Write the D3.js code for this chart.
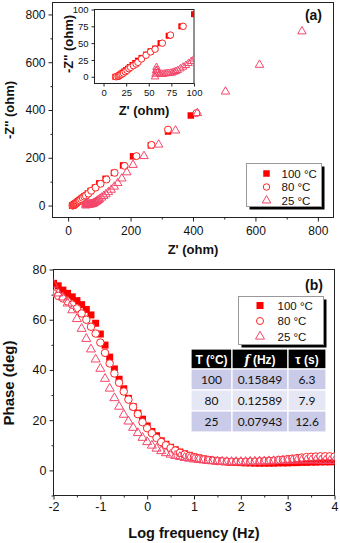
<!DOCTYPE html>
<html><head><meta charset="utf-8">
<script src="https://cdn.jsdelivr.net/npm/d3@7"></script>
<style>
body{margin:0;background:#fff}
svg{display:block}
text{font-family:Arial,"Liberation Sans",sans-serif;fill:#111}
</style>
</head><body>
<svg id="c" width="340" height="543"></svg>
<script>
// ---------- DATA ----------
// Panel (a): Nyquist plot  (Z', -Z'') in ohm
const zre100 = [13,15,16,17,18,19.5,21,23,25,27,29,32,35,38,42,47,52,57,63,72,86,100,120,147,176,208,265,320,393];
const zim100 = [0,0.5,1,2,3,4.5,6,8,10,12,14.5,17.5,20.5,24,28,33,38,42,50,61,75,93,112,137,168,206,252,310,377];
const zre80  = [14,16,17,18,19,20.5,22,24,26,28,30,33,36,38,42,47,52,57,65,74,88,104,123,149,181,219,267,320,411];
const zim80  = [0,0.5,1,2,3,4,5.5,7.5,9.5,12,14,16.5,19,21.5,26.5,32,37,41,50,62,75,91,109,137,166,207,254,318,387];
const zre25  = [57,57.5,58,58.5,59,60,62,64,66,68,70,72,74,76,78,80,82,85,88,91,94,97,100,107,114,121,129,138,148,159,172,188,208,243,290,344,414,504,613,749];
const zim25  = [0,4,9,14,10,6,4.5,4,4,4.5,5,5,5.5,6,7,8,9.5,12,14.5,17,20,23,26.5,33,40,47,56,66,79,94,113,139,170,207,255,314,387,477,589,729];
const ticksA = [0,200,400,600,800];
const minorA = [100,300,500,700];
const ticksInset = [0,25,50,75,100];

// Panel (b): Bode phase
const logF = [-2.0,-1.9,-1.8,-1.7,-1.6,-1.5,-1.4,-1.3,-1.2,-1.1,-1.0,-0.9,-0.8,-0.7,-0.6,-0.5,-0.4,-0.3,-0.2,-0.1,
  0.0,0.1,0.2,0.3,0.4,0.5,0.6,0.7,0.8,0.9,1.0,1.1,1.2,1.3,1.4,1.5,1.6,1.7,1.8,1.9,
  2.0,2.1,2.2,2.3,2.4,2.5,2.6,2.7,2.8,2.9,3.0,3.1,3.2,3.3,3.4,3.5,3.6,3.7,3.8,3.9,4.0];
const phase100 = [74.5,73.5,71.8,70.5,69.1,67.6,66.0,64.1,61.9,58.6,54.3,49.9,45.1,40.4,36.3,32.5,28.7,25.4,22.8,20.4,
  17.7,15.5,13.8,11.8,10.4,9.2,8.2,7.3,6.6,6.0,5.4,5.0,4.6,4.3,4.0,3.8,3.6,3.4,3.3,3.2,
  3.1,3.0,3.0,2.9,2.9,2.9,2.9,2.9,3.0,3.0,3.0,3.1,3.1,3.2,3.2,3.3,3.3,3.4,3.4,3.4,3.5];
const phase80 = [70.5,69.5,68.5,67.3,66.0,64.5,62.5,60.0,57.2,54.5,50.9,46.8,42.6,38.6,34.9,31.4,28.2,25.3,22.4,19.2,
  16.8,14.8,12.9,11.3,10.0,8.9,7.9,7.0,6.3,5.7,5.2,4.8,4.4,4.1,3.9,3.7,3.6,3.5,3.4,3.4,
  3.4,3.4,3.5,3.5,3.6,3.7,3.8,3.9,4.1,4.3,4.5,4.7,4.9,5.1,5.3,5.4,5.5,5.6,5.6,5.6,5.5];
const phase25 = [74.0,70.5,68.9,66.5,63.8,60.3,56.4,52.4,48.2,44.2,40.5,36.5,32.6,28.8,25.4,22.2,19.5,17.0,14.9,13.0,
  11.3,9.9,8.7,7.7,6.9,6.3,5.8,5.4,5.0,4.7,4.4,4.2,4.0,3.8,3.7,3.6,3.5,3.4,3.4,3.4,
  3.4,3.4,3.5,3.5,3.6,3.6,3.7,3.7,3.8,3.8,3.9,3.9,4.0,4.0,4.0,4.0,4.0,3.9,3.9,3.8,3.8];
const ticksBx = [-2,-1,0,1,2,3,4];
const minorBx = [-1.5,-0.5,0.5,1.5,2.5,3.5];
const ticksBy = [0,20,40,60,80];
const minorBy = [-10,10,30,50,70];

const legendLabels = ["100 °C","80 °C","25 °C"];
const tableTemps = ["100","80","25"];
const tableFreq  = ["0.15849","0.12589","0.07943"];
const tableTau   = ["6.3","7.9","12.6"];

// ---------- STYLE ----------
const RED = "#ff0000", CIRC = "#ff2424", TRI = "#f4476b", FRAME = "#222";
const svg = d3.select("#c");

function markers(g, xs, ys, sx, sy, type, s) {
  const pts = xs.map((x,i)=>[sx(x), sy(ys[i])]);
  if (type === "sq") {
    g.selectAll(null).data(pts).enter().append("rect")
      .attr("x",d=>d[0]-s/2).attr("y",d=>d[1]-s/2).attr("width",s).attr("height",s)
      .attr("fill",RED);
  } else if (type === "ci") {
    g.selectAll(null).data(pts).enter().append("circle")
      .attr("cx",d=>d[0]).attr("cy",d=>d[1]).attr("r",s/2)
      .attr("fill","#fff").attr("stroke",CIRC).attr("stroke-width",1);
  } else {
    const sym = d3.symbol(d3.symbolTriangle, s*s*Math.sqrt(3)/4);
    g.selectAll(null).data(pts).enter().append("path")
      .attr("d",sym).attr("transform",d=>`translate(${d[0]},${d[1]})`)
      .attr("fill","none").attr("stroke",TRI).attr("stroke-width",1);
  }
}

function axes(g, sx, sy, major_x, minor_x, major_y, minor_y, fs, tl, fmt) {
  const [x0,x1] = sx.range(), [y0,y1] = sy.range();
  const fx = fmt || (d=>String(d));
  const ax = g.append("g").attr("transform",`translate(0,${y0})`)
    .call(d3.axisBottom(sx).tickValues(major_x).tickSize(tl).tickSizeOuter(0).tickPadding(3).tickFormat(fx));
  const ay = g.append("g").attr("transform",`translate(${x0},0)`)
    .call(d3.axisLeft(sy).tickValues(major_y).tickSize(tl).tickSizeOuter(0).tickPadding(3).tickFormat(fx));
  [ax,ay].forEach(a=>{
    a.select(".domain").remove();
    a.selectAll("line").attr("stroke",FRAME);
    a.selectAll("text").attr("font-size",fs).attr("fill","#111").style("font-family","Arial, 'Liberation Sans', sans-serif");
  });
  if (minor_x) {
    const m = g.append("g").attr("transform",`translate(0,${y0})`)
      .call(d3.axisBottom(sx).tickValues(minor_x).tickSize(tl/2).tickFormat(""));
    m.select(".domain").remove(); m.selectAll("line").attr("stroke",FRAME);
  }
  if (minor_y) {
    const m = g.append("g").attr("transform",`translate(${x0},0)`)
      .call(d3.axisLeft(sy).tickValues(minor_y).tickSize(tl/2).tickFormat(""));
    m.select(".domain").remove(); m.selectAll("line").attr("stroke",FRAME);
  }
  g.append("rect").attr("x",x0).attr("y",y1).attr("width",x1-x0).attr("height",y0-y1)
    .attr("fill","none").attr("stroke",FRAME).attr("stroke-width",1);
}

function legend(g, x, y, w, h, rowY, mx, tx, s) {
  g.append("rect").attr("x",x+3).attr("y",y+3).attr("width",w).attr("height",h).attr("fill","#000");
  g.append("rect").attr("x",x).attr("y",y).attr("width",w).attr("height",h).attr("fill","#fff").attr("stroke","#999");
  const types = ["sq","ci","tr"];
  types.forEach((t,i)=>{
    markers(g,[mx],[rowY[i]],d=>d,d=>d,t,t==="tr"? s+2 : s);
    g.append("text").attr("x",tx).attr("y",rowY[i]+4).attr("font-size",11.5).text(legendLabels[i]);
  });
}

// ---------- PANEL A ----------
const xA = d3.scaleLinear().domain([-50,850]).range([52.5,333.5]);
const yA = d3.scaleLinear().domain([-50,850]).range([217.5,2.5]);
const gA = svg.append("g");
axes(gA, xA, yA, ticksA, minorA, ticksA, minorA, 12, 4);
gA.selectAll("text").filter(function(){return this.parentNode.parentNode.getAttribute("transform")==="translate(0,217.5)";}).attr("dy","0.85em");
svg.append("clipPath").attr("id","clipA").append("rect").attr("x",52.5).attr("y",2.5).attr("width",281).attr("height",215);
const mA = gA.append("g").attr("clip-path","url(#clipA)");
markers(mA, zre100, zim100, xA, yA, "sq", 6.5);
markers(mA, zre80, zim80, xA, yA, "ci", 7);
markers(mA, zre25, zim25, xA, yA, "tr", 8.5);
gA.append("text").attr("x",193).attr("y",254).attr("text-anchor","middle").attr("font-size",13).attr("font-weight","bold").text("Z' (ohm)");
gA.append("text").attr("transform","translate(13.5,110) rotate(-90)").attr("text-anchor","middle").attr("font-size",13).attr("font-weight","bold").text("-Z'' (ohm)");
gA.append("text").attr("x",322).attr("y",20).attr("text-anchor","end").attr("font-size",14).attr("font-weight","bold").text("(a)");
legend(gA, 246.5, 163.5, 75, 43, [173.5,187,200.5], 266.5, 281.5, 6.5);

// inset
const xI = d3.scaleLinear().domain([-10,100]).range([94.5,194]);
const yI = d3.scaleLinear().domain([-10,100]).range([83.5,9.5]);
const gI = svg.append("g");
gI.append("rect").attr("x",94.5).attr("y",9.5).attr("width",99.5).attr("height",74).attr("fill","#fff");
axes(gI, xI, yI, ticksInset, null, ticksInset, null, 9.5, 3);
svg.append("clipPath").attr("id","clipI").append("rect").attr("x",94.5).attr("y",9.5).attr("width",99.5).attr("height",74);
const mI = gI.append("g").attr("clip-path","url(#clipI)");
markers(mI, zre100, zim100, xI, yI, "sq", 6);
markers(mI, zre80, zim80, xI, yI, "ci", 6.5);
markers(mI, zre25, zim25, xI, yI, "tr", 7.5);
gI.append("text").attr("x",144).attr("y",115).attr("text-anchor","middle").attr("font-size",13).attr("font-weight","bold").text("Z' (ohm)");
gI.append("text").attr("transform","translate(73,44) rotate(-90)").attr("text-anchor","middle").attr("font-size",13).attr("font-weight","bold").text("-Z'' (ohm)");

// ---------- PANEL B ----------
const xB = d3.scaleLinear().domain([-2,4]).range([53.5,334.5]);
const yB = d3.scaleLinear().domain([-10,80]).range([495.5,269.5]);
const gB = svg.append("g");
axes(gB, xB, yB, ticksBx, minorBx, ticksBy, minorBy, 12.5, 4);
svg.append("clipPath").attr("id","clipB").append("rect").attr("x",53.5).attr("y",269.5).attr("width",281).attr("height",226);
const mB = gB.append("g").attr("clip-path","url(#clipB)");
markers(mB, logF, phase100, xB, yB, "sq", 7);
markers(mB, logF, phase80, xB, yB, "ci", 7.5);
markers(mB, logF, phase25, xB, yB, "tr", 9);
gB.append("text").attr("x",194).attr("y",538).attr("text-anchor","middle").attr("font-size",14.5).attr("font-weight","bold").text("Log frequency (Hz)");
gB.append("text").attr("transform","translate(14,383) rotate(-90)").attr("text-anchor","middle").attr("font-size",15).attr("font-weight","bold").text("Phase (deg)");
gB.append("text").attr("x",323).attr("y",290).attr("text-anchor","end").attr("font-size",14).attr("font-weight","bold").text("(b)");
legend(gB, 238.5, 296.5, 85, 48, [305.5,321,336.5], 260, 277.5, 7);

// table
const tg = svg.append("g");
const colX = [191,232,288,326];
const rowY = [349,369,390,411,432];
const rowFill = ["#000","#c9cbe8","#e6e7f4","#c9cbe8"];
for (let r=0;r<4;r++) for (let c=0;c<3;c++) {
  tg.append("rect").attr("x",colX[c]).attr("y",rowY[r]).attr("width",colX[c+1]-colX[c]).attr("height",rowY[r+1]-rowY[r])
    .attr("fill",rowFill[r]).attr("stroke","#fff").attr("stroke-width",1.2);
}
const tfont = "Lato, 'Open Sans', sans-serif";
const cx = c => (colX[c]+colX[c+1])/2;
const hdr = tg.append("g").attr("font-weight","bold").attr("font-size",12).style("font-family",tfont);
hdr.append("text").attr("x",cx(0)).attr("y",363.5).attr("text-anchor","middle").attr("fill","#fff").style("fill","#fff").text("T (°C)");
const h2 = hdr.append("text").attr("x",cx(1)).attr("y",363.5).attr("text-anchor","middle").style("fill","#fff");
h2.append("tspan").attr("font-style","italic").attr("font-family","'DejaVu Serif', serif").text("f");
h2.append("tspan").text(" (Hz)");
hdr.append("text").attr("x",cx(2)).attr("y",363.5).attr("text-anchor","middle").style("fill","#fff").text("τ (s)");
[tableTemps,tableFreq,tableTau].forEach((col,c)=>{
  col.forEach((v,r)=>{
    tg.append("text").attr("x",cx(c)).attr("y",rowY[r+1]+14.5).attr("text-anchor","middle")
      .attr("font-size",12).style("font-family",tfont).style("fill","#111").text(v);
  });
});
</script>
</body></html>
